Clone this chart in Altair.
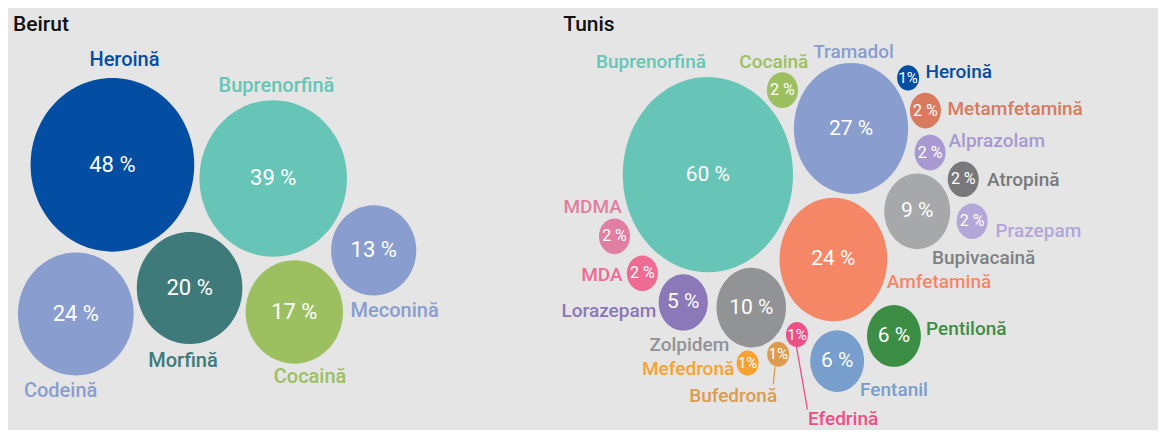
import altair as alt
import pandas as pd

BG = "#e5e5e5"
FONT = "Roboto, sans-serif"

# ---------------- Beirut ----------------
b_drugs = ["Heroină", "Buprenorfină", "Meconină", "Codeină", "Morfină", "Cocaină"]
b_values = [48, 39, 13, 24, 20, 17]
b_colors = ["#034ea2", "#67c5b7", "#8a9dcf", "#8a9dcf", "#3f7a7a", "#9cc060"]
# bubble layout (reference pixel units)
b_cx = [109.5, 272.0, 373.5, 72.5, 187.5, 293.3]
b_cy = [167.8, 181.7, 255.0, 319.8, 293.3, 317.8]
b_lx = [121.7, 275.3, 394.7, 57.2, 180.8, 309.2]
b_ly = [60.8, 87.2, 316.7, 397.8, 367.5, 383.8]
b_align = ["center"] * 6

# ---------------- Tunis ----------------
t_drugs = ["Buprenorfină", "Cocaină", "Tramadol", "Heroină", "Metamfetamină",
           "Alprazolam", "Atropină", "Bupivacaină", "Prazepam", "Amfetamină",
           "MDMA", "MDA", "Lorazepam", "Zolpidem", "Mefedronă", "Bufedronă",
           "Efedrină", "Fentanil", "Pentilonă"]
t_values = [60, 2, 27, 1, 2, 2, 2, 9, 2, 24, 2, 2, 5, 10, 1, 1, 1, 6, 6]
t_colors = ["#67c5b7", "#9cc060", "#8a9dcf", "#034ea2", "#d97a5e",
            "#a899d1", "#79797b", "#a7a8aa", "#b3a6d9", "#f58766",
            "#e07fa2", "#f06b93", "#8a78b8", "#929395", "#f7a22f", "#dd9b4e",
            "#ee4f86", "#789ece", "#3d8e45"]
t_lcolors = list(t_colors)
t_lcolors[7] = "#7f8082"
t_cx = [711.2, 786.5, 855.8, 913.5, 931.0, 935.7, 969.2, 922.7, 978.2, 838.0,
        616.8, 645.0, 686.3, 755.0, 751.3, 782.2, 801.2, 841.8, 899.2]
t_cy = [177.8, 91.7, 130.8, 79.2, 112.5, 155.3, 182.5, 215.2, 225.3, 264.2,
        240.7, 278.3, 308.0, 313.3, 369.8, 360.8, 340.7, 367.8, 342.2]
t_lx = [653.7, 777.8, 858.3, 931.0, 953.3, 954.3, 993.3, 989.8, 1001.7, 944.7,
        594.7, 625.0, 659.0, 692.5, 691.2, 736.7, 847.8, 899.2, 931.7]
t_ly = [63.0, 63.0, 52.8, 73.0, 111.2, 143.7, 182.8, 263.0, 235.5, 287.2,
        210.7, 280.3, 317.2, 351.7, 376.2, 403.0, 426.5, 397.5, 335.0]
t_align = ["center", "center", "center", "left", "left", "left", "left", "center",
           "left", "center", "center", "right", "right", "center", "center",
           "center", "center", "center", "left"]

# leader lines (Tunis)
lead_drug = ["Bufedronă", "Efedrină"]
lead_x = [779.0, 800.7]
lead_y = [373.7, 353.0]
lead_x2 = [777.3, 811.8]
lead_y2 = [391.7, 417.0]
lead_color = ["#dd9b4e", "#ee4f86"]

titles = ["Beirut", "Tunis"]
title_x = [9.0, 565.0]
title_y = [31.5, 31.5]


def vtext(v):
    return "1%" if v == 1 else f"{v} %"


df_b = pd.DataFrame({
    "city": "Beirut", "drug": b_drugs, "value": b_values, "color": b_colors,
    "lcolor": b_colors, "cx": b_cx, "cy": b_cy, "lx": b_lx, "ly": b_ly,
    "align": b_align,
})
df_t = pd.DataFrame({
    "city": "Tunis", "drug": t_drugs, "value": t_values, "color": t_colors,
    "lcolor": t_lcolors, "cx": t_cx, "cy": t_cy, "lx": t_lx, "ly": t_ly,
    "align": t_align,
})
df_all = pd.concat([df_b, df_t], ignore_index=True)
df_all["vtext"] = [vtext(v) for v in df_all["value"]]
df_all["fs"] = [
    (22 if c == "Beirut" else 21) if v >= 5 else (16 if v == 2 else 15)
    for c, v in zip(df_all["city"], df_all["value"])
]
df_all["lfs"] = [20 if c == "Beirut" else 19 for c in df_all["city"]]

df_lead = pd.DataFrame({"drug": lead_drug, "x": lead_x, "y": lead_y,
                        "x2": lead_x2, "y2": lead_y2, "color": lead_color})
df_titles = pd.DataFrame({"t": titles, "x": title_x, "y": title_y})

xs = alt.Scale(domain=[4, 1166], nice=False, zero=False)
ys = alt.Scale(domain=[8, 438], nice=False, zero=False, reverse=True)

ELL_B = "M -1 0 A 1 1.061 0 1 1 1 0 A 1 1.061 0 1 1 -1 0 Z"
ELL_T = "M -1 0 A 1 1.147 0 1 1 1 0 A 1 1.147 0 1 1 -1 0 Z"

bub_b = alt.Chart(df_b).mark_point(shape=ELL_B, filled=True, opacity=1, strokeWidth=0).encode(
    x=alt.X("cx:Q", scale=xs, axis=None),
    y=alt.Y("cy:Q", scale=ys, axis=None),
    size=alt.Size("value:Q", scale=alt.Scale(domain=[0, 100], range=[0, 55800]), legend=None),
    color=alt.Color("color:N", scale=None),
)
bub_t = alt.Chart(df_t).mark_point(shape=ELL_T, filled=True, opacity=1, strokeWidth=0).encode(
    x=alt.X("cx:Q", scale=xs, axis=None),
    y=alt.Y("cy:Q", scale=ys, axis=None),
    size=alt.Size("value:Q", scale=alt.Scale(domain=[0, 100], range=[0, 48300]), legend=None),
    color=alt.Color("color:N", scale=None),
)

values = alt.Chart(df_all).mark_text(color="white", font=FONT, fontWeight="normal",
                                     baseline="middle", align="center").encode(
    x=alt.X("cx:Q", scale=xs, axis=None),
    y=alt.Y("cy:Q", scale=ys, axis=None),
    text="vtext:N",
    size=alt.Size("fs:Q", scale=None),
)


def label_layer(al):
    return alt.Chart(df_all).transform_filter(alt.datum.align == al).mark_text(
        font=FONT, fontWeight=500, baseline="middle", align=al
    ).encode(
        x=alt.X("lx:Q", scale=xs, axis=None),
        y=alt.Y("ly:Q", scale=ys, axis=None),
        text="drug:N",
        color=alt.Color("lcolor:N", scale=None),
        size=alt.Size("lfs:Q", scale=None),
    )


leads = alt.Chart(df_lead).mark_rule(strokeWidth=1.3).encode(
    x=alt.X("x:Q", scale=xs, axis=None),
    y=alt.Y("y:Q", scale=ys, axis=None),
    x2="x2:Q",
    y2="y2:Q",
    color=alt.Color("color:N", scale=None),
)

title_marks = alt.Chart(df_titles).mark_text(
    font="Roboto", fontSize=21, fontWeight=500, color="#111111",
    align="left", baseline="alphabetic"
).encode(
    x=alt.X("x:Q", scale=xs, axis=None),
    y=alt.Y("y:Q", scale=ys, axis=None),
    text="t:N",
)

chart = alt.layer(
    leads, bub_b, bub_t, values,
    label_layer("center"), label_layer("left"), label_layer("right"),
    title_marks,
).resolve_scale(size="independent").properties(
    width=1150, height=422, padding=0, background=BG,
    autosize=alt.AutoSizeParams(type="none"),
).configure_view(stroke=None)

chart.save("out.html", embed_options={"renderer": "svg", "actions": False})
